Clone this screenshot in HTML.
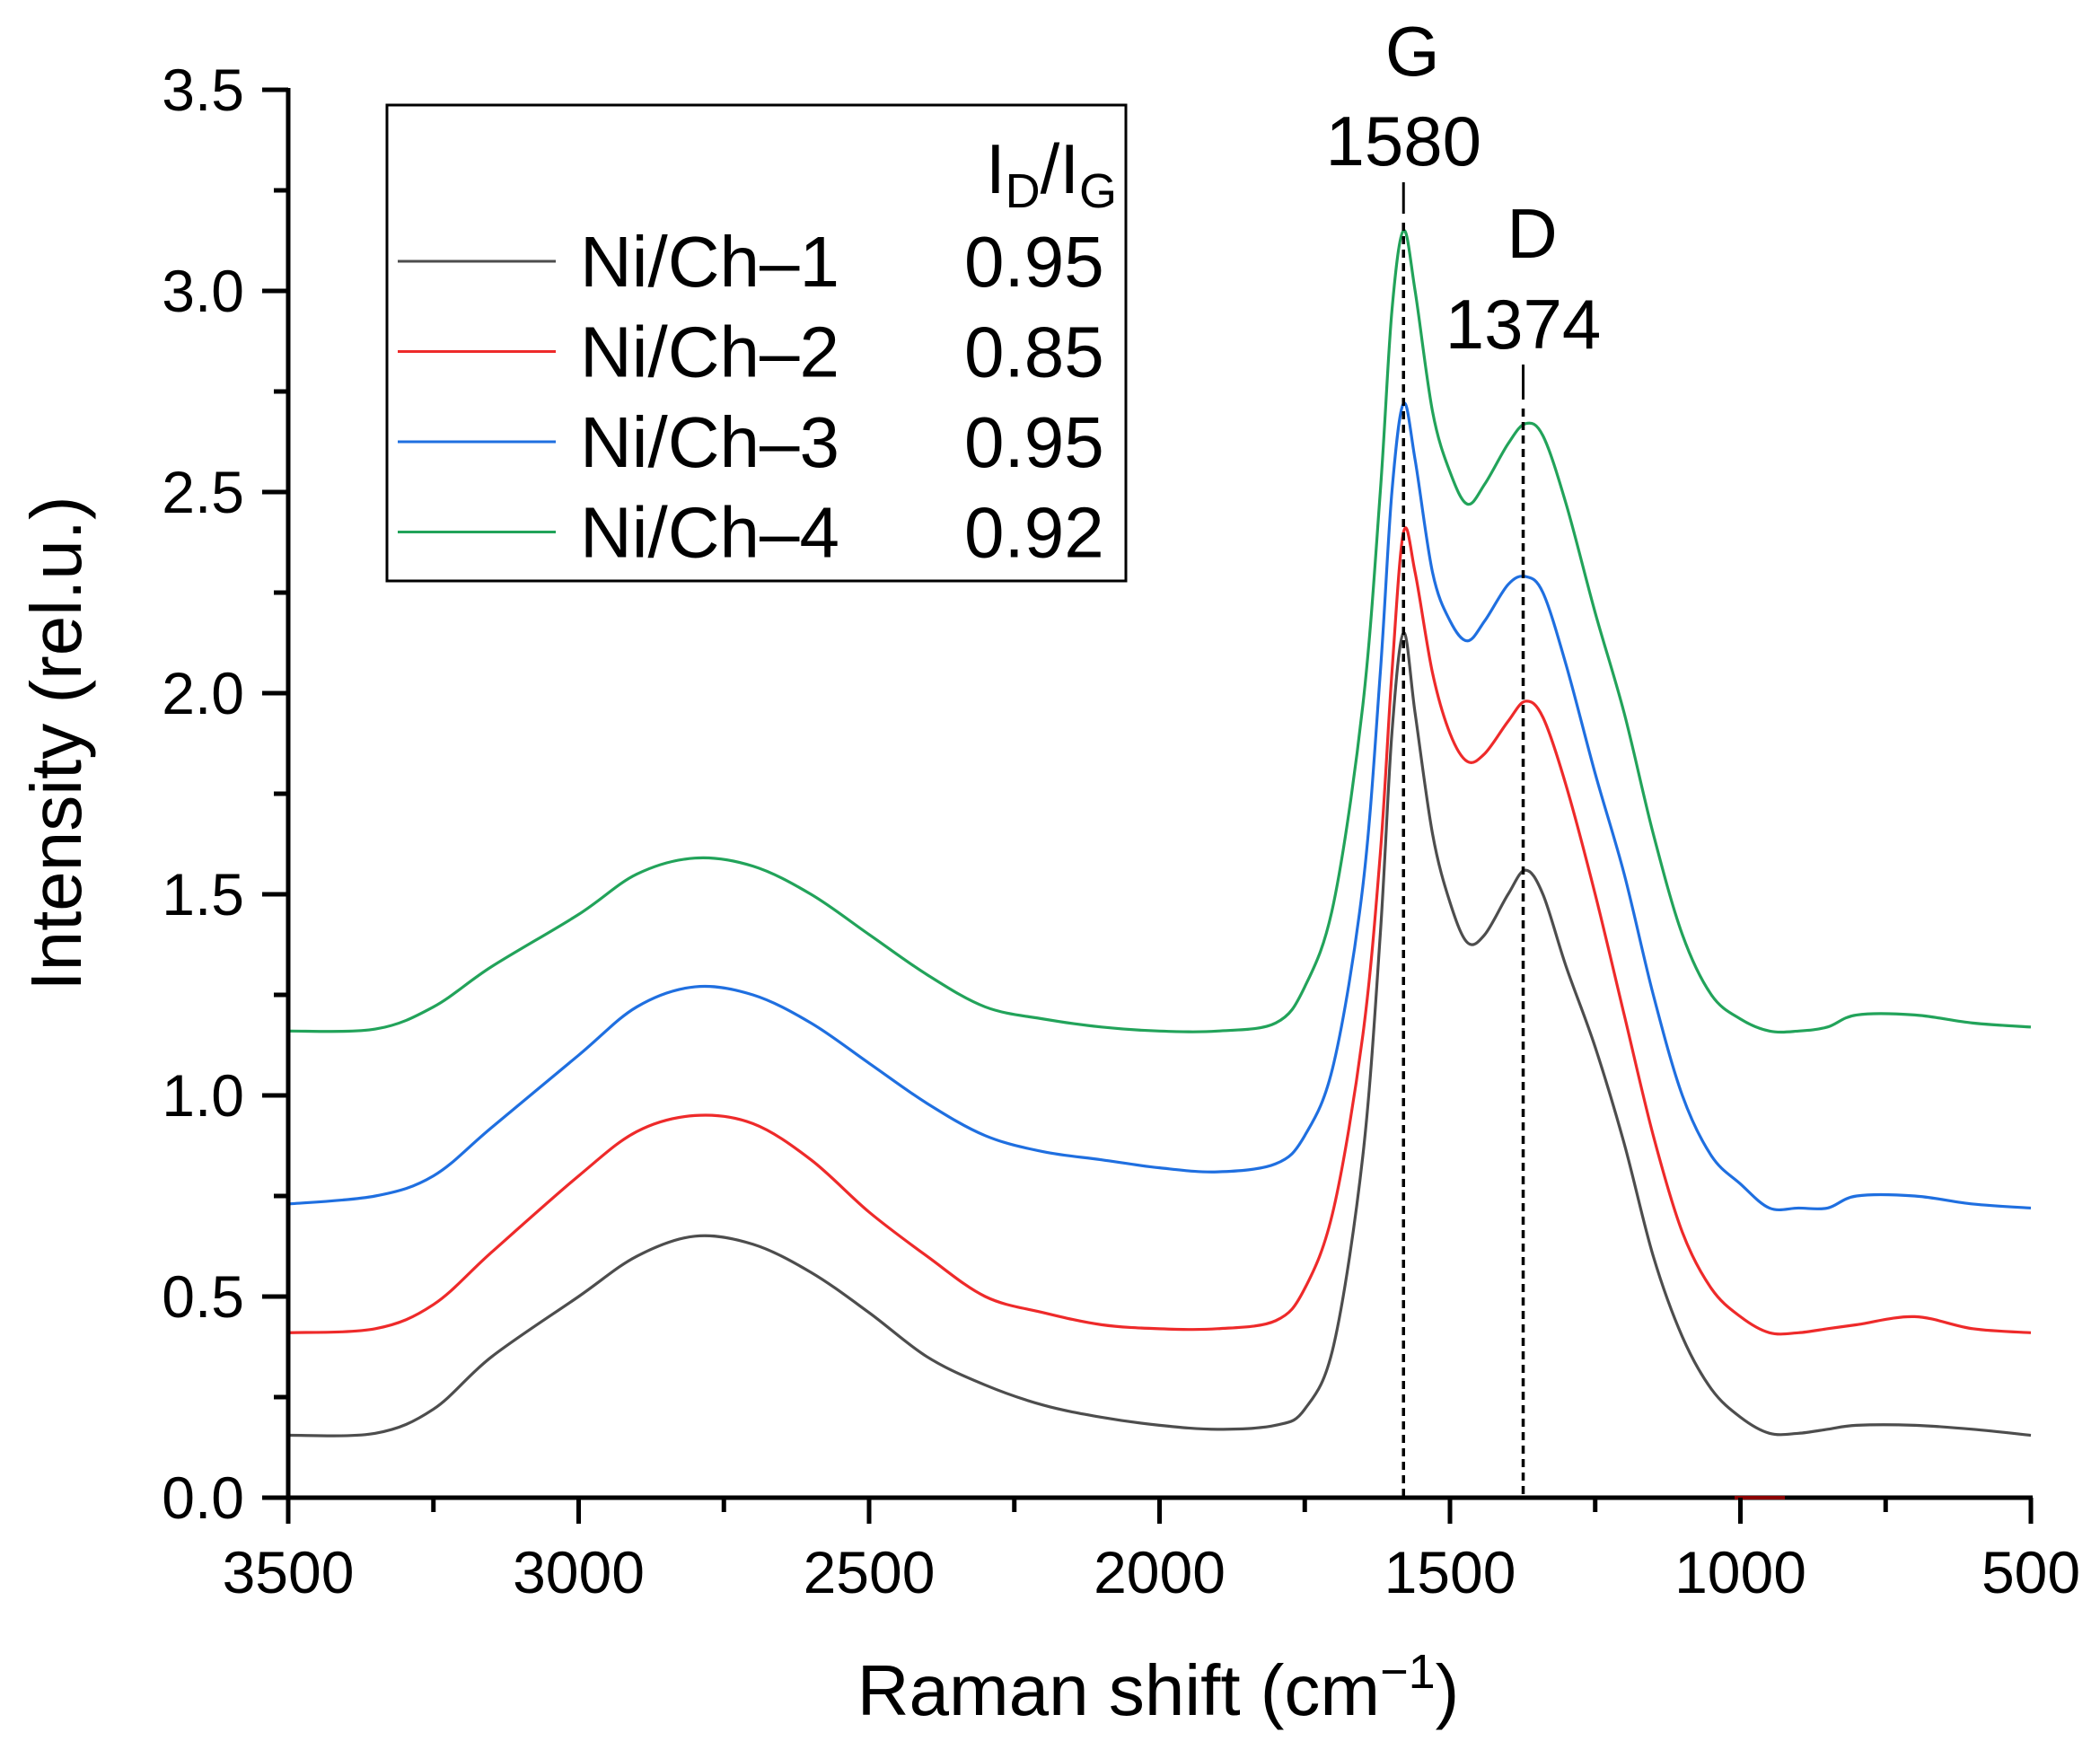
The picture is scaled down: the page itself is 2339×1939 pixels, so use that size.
<!DOCTYPE html>
<html><head><meta charset="utf-8"><style>
html,body{margin:0;padding:0;background:#fff;}
svg{display:block;font-family:"Liberation Sans",Arial,sans-serif;}
</style></head><body>
<svg id="chart" width="2339" height="1939" viewBox="0 0 2339 1939" xmlns="http://www.w3.org/2000/svg">
<g id="series"></g>
<g id="axes"></g>
<g id="annot"></g>
<g id="legend"></g>
</svg>
<script>
const xs = [3500,3350,3250,3150,3000,2900,2800,2700,2600,2500,2400,2300,2200,2100,2000,1900,1800,1750,1700,1650,1620,1600,1580,1560,1530,1500,1470,1440,1400,1370,1340,1300,1250,1200,1150,1100,1050,1000,950,900,850,800,700,600,500];
const ch1 = [0.155,0.16,0.22,0.35,0.5,0.6,0.65,0.63,0.56,0.46,0.35,0.28,0.23,0.2,0.18,0.17,0.18,0.22,0.38,0.85,1.4,1.9,2.15,1.95,1.65,1.48,1.38,1.4,1.5,1.56,1.5,1.32,1.12,0.88,0.6,0.4,0.27,0.2,0.16,0.16,0.17,0.18,0.18,0.17,0.155];
const ch2 = [0.41,0.42,0.48,0.61,0.8,0.91,0.95,0.93,0.84,0.71,0.6,0.5,0.46,0.43,0.42,0.42,0.44,0.52,0.72,1.15,1.6,2.05,2.4,2.3,2.05,1.9,1.83,1.85,1.93,1.98,1.94,1.77,1.5,1.2,0.9,0.66,0.52,0.45,0.41,0.41,0.42,0.43,0.45,0.42,0.41];
const ch3 = [0.73,0.75,0.8,0.92,1.1,1.22,1.27,1.25,1.18,1.08,0.98,0.9,0.86,0.84,0.82,0.81,0.83,0.9,1.08,1.52,2.05,2.5,2.72,2.58,2.3,2.18,2.13,2.18,2.27,2.29,2.25,2.07,1.8,1.55,1.25,1.0,0.85,0.78,0.72,0.72,0.72,0.75,0.75,0.73,0.72];
const ch4 = [1.16,1.165,1.22,1.32,1.45,1.55,1.59,1.57,1.5,1.4,1.3,1.22,1.19,1.17,1.16,1.16,1.18,1.27,1.48,1.97,2.5,2.95,3.15,3.0,2.7,2.55,2.47,2.52,2.62,2.67,2.64,2.47,2.2,1.95,1.65,1.4,1.25,1.19,1.16,1.16,1.17,1.2,1.2,1.18,1.17];
const seriesNames = ["Ni/Ch\u20131","Ni/Ch\u20132","Ni/Ch\u20133","Ni/Ch\u20134"];
const ratios = ["0.95","0.85","0.95","0.92"];
const colors = ["#4d4d4d","#ee2a2a","#1f6fe0","#22a35a"];
const xTicks = [3500,3000,2500,2000,1500,1000,500];
const yTicks = [0,0.5,1.0,1.5,2.0,2.5,3.0,3.5];
const peaks = [1580,1374];
const peakLabels = ["G","D"];

const NS="http://www.w3.org/2000/svg";
const X0=321,X1=2262,Y0=1668,Y1=100;
const sx=v=>X0+(3500-v)/3000*(X1-X0);
const sy=v=>Y0-v/3.5*(Y0-Y1);
function mk(tag,attrs,parent,text){const e=document.createElementNS(NS,tag);for(const k in attrs)e.setAttribute(k,attrs[k]);if(text!==undefined)e.textContent=text;parent.appendChild(e);return e;}

const sg=document.getElementById('series');
[ch1,ch2,ch3,ch4].forEach((arr,si)=>{
  const pts=xs.map((x,i)=>[sx(x),sy(arr[i])]);
  let d=`M${pts[0][0]},${pts[0][1]}`;
  for(let i=0;i<pts.length-1;i++){
    const p0=pts[Math.max(0,i-1)],p1=pts[i],p2=pts[i+1],p3=pts[Math.min(pts.length-1,i+2)];
    const c1=[p1[0]+(p2[0]-p0[0])/6,p1[1]+(p2[1]-p0[1])/6];
    const c2=[p2[0]-(p3[0]-p1[0])/6,p2[1]-(p3[1]-p1[1])/6];
    d+=` C${c1[0]},${c1[1]} ${c2[0]},${c2[1]} ${p2[0]},${p2[1]}`;
  }
  const p=mk('path',{d:d,fill:'none',stroke:colors[si],'stroke-width':3.2},sg);
  
  
});

const ag=document.getElementById('axes');
let e;
e=mk('line',{x1:X0,y1:Y0+2,x2:X0,y2:Y1-2,stroke:'#000','stroke-width':5},ag);

e=mk('line',{x1:X0-2,y1:Y0,x2:X1+2,y2:Y0,stroke:'#000','stroke-width':5},ag);

mk('line',{x1:1932,y1:Y0,x2:1988,y2:Y0,stroke:'#8b0000','stroke-width':4},ag);
xTicks.forEach(t=>{
  const x=sx(t);
  mk('line',{x1:x,y1:Y0,x2:x,y2:Y0+29,stroke:'#000','stroke-width':5},ag);
  const tx=mk('text',{x:x,y:1774,'font-size':66,'text-anchor':'middle'},ag,String(t));
  
});
for(let t=3250;t>500;t-=500){const x=sx(t);mk('line',{x1:x,y1:Y0,x2:x,y2:Y0+16,stroke:'#000','stroke-width':5},ag);}
yTicks.forEach(t=>{
  const y=sy(t);
  mk('line',{x1:X0-29,y1:y,x2:X0,y2:y,stroke:'#000','stroke-width':5},ag);
  const tx=mk('text',{x:272,y:y+23,'font-size':66,'text-anchor':'end'},ag,t.toFixed(1));
  
});
for(let t=0.25;t<3.5;t+=0.5){const y=sy(t);mk('line',{x1:X0-16,y1:y,x2:X0,y2:y,stroke:'#000','stroke-width':5},ag);}
e=mk('text',{x:1290,y:1910,'font-size':80,'text-anchor':'middle'},ag);

e.innerHTML='Raman shift (cm<tspan dy="-30" font-size="54">\u22121</tspan><tspan dy="30">)</tspan>';
e=mk('text',{x:0,y:0,'font-size':80,'text-anchor':'middle',transform:'translate(90,828) rotate(-90)'},ag,'Intensity (rel.u.)');


const ng=document.getElementById('annot');
const labY=[[84,184,203,238],[287,388,406,445]];
peaks.forEach((p,i)=>{
  const x=sx(p);
  const dl=mk('line',{x1:x,y1:labY[i][3]+10,x2:x,y2:Y0,stroke:'#000','stroke-width':3.5,'stroke-dasharray':'9,6'},ng);
  
  mk('line',{x1:x,y1:labY[i][2],x2:x,y2:labY[i][3],stroke:'#000','stroke-width':3},ng);
  const a=mk('text',{x:x+10,y:labY[i][0],'font-size':78,'text-anchor':'middle'},ng,peakLabels[i]);
  
  const b=mk('text',{x:x,y:labY[i][1],'font-size':78,'text-anchor':'middle'},ng,String(p));
  
});

const lg=document.getElementById('legend');
e=mk('rect',{x:431,y:117,width:823,height:530,fill:'#fff',stroke:'#000','stroke-width':3},lg);

e=mk('text',{x:1098,y:215,'font-size':78},lg);

e.innerHTML='I<tspan dy="16" font-size="54">D</tspan><tspan dy="-16">/I</tspan><tspan dy="16" font-size="54">G</tspan>';
seriesNames.forEach((n,i)=>{
  const y=291+i*100.5;
  const g=mk('g',{},lg);
  
  mk('line',{x1:443,y1:y,x2:619,y2:y,stroke:colors[i],'stroke-width':3},g);
  mk('text',{x:646,y:y+28,'font-size':80},g,n);
  mk('text',{x:1074,y:y+28,'font-size':80},g,ratios[i]);
});
</script>
</body></html>
